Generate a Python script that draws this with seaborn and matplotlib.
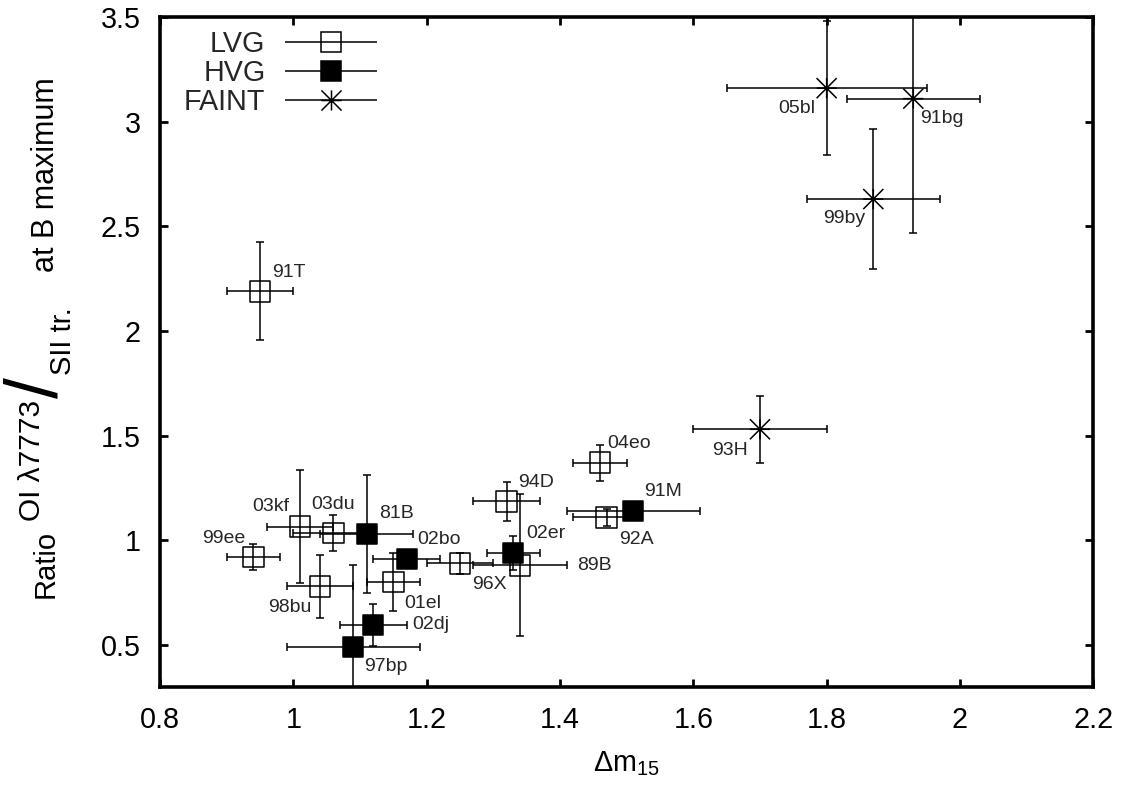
import numpy as np
import pandas as pd
import matplotlib
matplotlib.use("Agg")
import matplotlib.pyplot as plt
from matplotlib.path import Path
from matplotlib.container import ErrorbarContainer
from matplotlib.legend_handler import HandlerErrorbar
from matplotlib.ticker import FuncFormatter
import seaborn as sns

# ---- data: decline rate vs. O I / Si II line ratio at B maximum ----
lvg_names = ["91T", "99ee", "03kf", "03du", "98bu", "01el", "96X", "89B", "94D", "04eo", "92A"]
lvg_dm15 = [0.95, 0.94, 1.01, 1.06, 1.04, 1.15, 1.25, 1.34, 1.32, 1.46, 1.47]
lvg_dm15_err = [0.05, 0.04, 0.05, 0.06, 0.05, 0.04, 0.05, 0.07, 0.05, 0.04, 0.05]
lvg_ratio = [2.19, 0.92, 1.065, 1.035, 0.78, 0.80, 0.89, 0.88, 1.185, 1.37, 1.11]
lvg_ratio_err = [0.235, 0.06, 0.27, 0.085, 0.15, 0.14, 0.05, 0.34, 0.095, 0.085, 0.04]

hvg_names = ["81B", "02bo", "02dj", "97bp", "02er", "91M"]
hvg_dm15 = [1.11, 1.17, 1.12, 1.09, 1.33, 1.51]
hvg_dm15_err = [0.07, 0.05, 0.05, 0.10, 0.04, 0.10]
hvg_ratio = [1.03, 0.91, 0.595, 0.49, 0.94, 1.14]
hvg_ratio_err = [0.28, 0.02, 0.10, 0.39, 0.08, 0.02]

faint_names = ["93H", "05bl", "91bg", "99by"]
faint_dm15 = [1.70, 1.80, 1.93, 1.87]
faint_dm15_err = [0.10, 0.15, 0.10, 0.10]
faint_ratio = [1.53, 3.16, 3.11, 2.63]
faint_ratio_err = [0.16, 0.32, 0.64, 0.335]

group_names = ["LVG", "HVG", "FAINT"]
x_ticks = [0.8, 1.0, 1.2, 1.4, 1.6, 1.8, 2.0, 2.2]
y_ticks = [0.5, 1.0, 1.5, 2.0, 2.5, 3.0, 3.5]

# label placement: (dx, dy) in pixels and horizontal alignment
label_pos = {
    "91T": (12, 19, "left"), "99ee": (-8, 18, "right"), "03kf": (-11, 20, "right"),
    "03du": (0, 28, "center"), "98bu": (-8, -21, "right"), "01el": (11, -21, "left"),
    "96X": (12, -21, "left"), "89B": (57, 0, "left"), "94D": (11, 19, "left"),
    "04eo": (7, 19, "left"), "92A": (12, -22, "left"), "81B": (12, 20, "left"),
    "02bo": (11, 20, "left"), "02dj": (39, 0, "left"), "97bp": (11, -20, "left"),
    "02er": (13, 19, "left"), "91M": (11, 19, "left"), "93H": (-12, -21, "right"),
    "05bl": (-11, -20, "right"), "91bg": (7, -20, "left"), "99by": (-8, -19, "right"),
}

frames = []
for g, n, x, xe, y, ye in [
    ("LVG", lvg_names, lvg_dm15, lvg_dm15_err, lvg_ratio, lvg_ratio_err),
    ("HVG", hvg_names, hvg_dm15, hvg_dm15_err, hvg_ratio, hvg_ratio_err),
    ("FAINT", faint_names, faint_dm15, faint_dm15_err, faint_ratio, faint_ratio_err),
]:
    frames.append(pd.DataFrame({"group": g, "name": n, "dm15": x, "dm15_err": xe,
                                "ratio": y, "ratio_err": ye}))
df = pd.concat(frames, ignore_index=True)

sns.set_theme(style="ticks")
plt.rcParams["font.family"] = ["Liberation Sans", "DejaVu Sans"]
plt.rcParams["mathtext.fontset"] = "custom"
plt.rcParams["mathtext.rm"] = "Liberation Sans"
plt.rcParams["mathtext.it"] = "Liberation Sans:italic"

# gnuplot-style asterisk: a plus overlaid with a cross
ast = Path([(-1, -1), (1, 1), (-1, 1), (1, -1), (0, -1), (0, 1), (-1, 0), (1, 0)],
           [Path.MOVETO, Path.LINETO] * 4)

styles = {
    "LVG": dict(marker="s", s=222, facecolor="none", edgecolor="black", linewidth=1.1),
    "HVG": dict(marker="s", s=222, facecolor="black", edgecolor="black", linewidth=1.1),
    "FAINT": dict(marker=ast, s=210, facecolor="none", edgecolor="black", linewidth=1.1),
}
proxy_fmt = {
    "LVG": dict(marker="s", ms=14.9, mfc="none", mec="black", mew=1.1),
    "HVG": dict(marker="s", ms=14.9, mfc="black", mec="black", mew=1.1),
    "FAINT": dict(marker=ast, ms=14.5, mfc="none", mec="black", mew=1.1),
}

fig = plt.figure(figsize=(11.26, 7.85), dpi=100)
W, H = 1126, 785
ax = fig.add_axes([160 / W, 1 - 686.7 / H, (1093.3 - 160) / W, (686.7 - 17) / H])

err_kw = dict(fmt="none", ecolor="black", elinewidth=1.1, capsize=3.1, capthick=1.1)
for g in group_names:
    sub = df[df.group == g]
    ax.errorbar(sub.dm15, sub.ratio, xerr=sub.dm15_err, yerr=sub.ratio_err,
                zorder=2, **err_kw)
for g in group_names:
    sub = df[df.group == g]
    sns.scatterplot(data=sub, x="dm15", y="ratio", ax=ax, zorder=3,
                    legend=False, **styles[g])

for _, r in df.iterrows():
    dx, dy, ha = label_pos[r["name"]]
    ax.annotate(r["name"], (r.dm15, r.ratio), xytext=(dx, dy),
                textcoords="offset pixels", ha=ha, va="center", fontsize=14)

ax.set_xlim(0.8, 2.2)
ax.set_ylim(0.3, 3.5)
ax.set_xticks(x_ticks)
ax.set_yticks(y_ticks)
fmt = FuncFormatter(lambda v, p: "%g" % v)
ax.xaxis.set_major_formatter(fmt)
ax.yaxis.set_major_formatter(fmt)
ax.tick_params(which="both", direction="in", top=True, right=True,
               length=5.5, width=2, labelsize=20.7, pad=14, color="black",
               labelcolor="black")
for sp in ax.spines.values():
    sp.set_linewidth(2.6)
    sp.set_color("black")
    sp.set_visible(True)

ax.set_xlabel(r"$\Delta$m$_{15}$", fontsize=20.7, labelpad=11, color="black")
ax.set_ylabel("")

# composite y-axis title
def ytext(px, py, s, size, ha):
    fig.text(px / W, 1 - py / H, s, rotation=90, rotation_mode="anchor",
             ha=ha, va="baseline", fontsize=size, color="black")

ytext(54, 598, "Ratio", 21, "left")
ytext(40, 400, "OI λ7773", 21.5, "right")
ytext(57, 388, "/", 54, "center")
ytext(71, 375, "SII tr.", 21, "left")
ytext(54, 272, "at B maximum", 22, "left")

# legend with horizontal error-bar samples
handles = []
for g in group_names:
    h = ax.errorbar([], [], xerr=[], fmt="", linestyle="none",
                    ecolor="black", elinewidth=1.1, capsize=3.1, capthick=1.1,
                    color="black", label=g, **proxy_fmt[g])
    handles.append(h)
ax.legend(handles=handles, labels=group_names, loc="upper left",
          bbox_to_anchor=((184 - 160) / 933.3, 0.980), frameon=False,
          markerfirst=False, fontsize=20.7, handlelength=3.2, handletextpad=0.67,
          labelspacing=0.03, borderpad=0, borderaxespad=0,
          handler_map={ErrorbarContainer: HandlerErrorbar(xerr_size=1.6, numpoints=1)})

fig.savefig("out.png", dpi=100, facecolor="white")
